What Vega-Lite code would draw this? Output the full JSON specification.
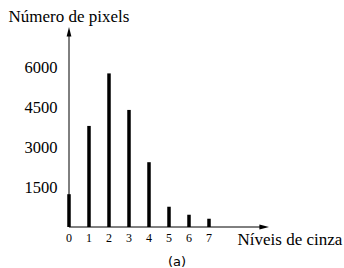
{
  "$schema": "https://vega.github.io/schema/vega-lite/v6.json",
  "width": 200,
  "height": 200,
  "autosize": "none",
  "padding": {"left": 69, "top": 27, "right": 75, "bottom": 41},
  "background": "white",
  "title": {"text": "(a)", "orient": "bottom", "anchor": "middle", "dx": 8, "offset": 9, "font": "DejaVu Sans", "fontSize": 13, "fontWeight": "normal", "color": "black"},
  "config": {"view": {"stroke": null}, "axis": {"labelOverlap": false, "domain": false, "ticks": false, "grid": false}},
  "datasets": {
    "hist": [
      {"nivel": 0, "pixels": 1230},
      {"nivel": 1, "pixels": 3790},
      {"nivel": 2, "pixels": 5760},
      {"nivel": 3, "pixels": 4390},
      {"nivel": 4, "pixels": 2430},
      {"nivel": 5, "pixels": 760},
      {"nivel": 6, "pixels": 460},
      {"nivel": 7, "pixels": 310}
    ]
  },
  "layer": [
    {
      "data": {"name": "hist"},
      "mark": {"type": "bar", "width": 3.5, "color": "black"},
      "encoding": {
        "x": {"field": "nivel", "type": "quantitative", "scale": {"domain": [0, 10], "nice": false, "zero": false, "padding": 0},
          "axis": {"labels": false, "title": "Níveis de cinza", "titleAngle": 0, "titleX": 168, "titleY": 12, "titleAlign": "left", "titleBaseline": "middle",
            "titleFont": "Liberation Serif", "titleFontSize": 17, "titleFontWeight": "normal", "titleColor": "black"}},
        "y": {"field": "pixels", "type": "quantitative", "scale": {"domain": [0, 7500], "nice": false, "padding": 0},
          "axis": {"values": [1500, 3000, 4500, 6000], "format": "d",
            "labelFont": "Liberation Serif", "labelFontSize": 16.5, "labelColor": "black", "labelPadding": 12,
            "title": "Número de pixels", "titleAngle": 0, "titleX": -61, "titleY": -11, "titleAlign": "left", "titleBaseline": "middle",
            "titleFont": "Liberation Serif", "titleFontSize": 17, "titleFontWeight": "normal", "titleColor": "black"}}
      }
    },
    {
      "data": {"name": "hist"},
      "mark": {"type": "text", "font": "Liberation Serif", "fontSize": 12, "color": "black", "baseline": "middle", "align": "center", "dy": 10.5},
      "encoding": {
        "x": {"field": "nivel", "type": "quantitative"},
        "y": {"datum": 0, "type": "quantitative"},
        "text": {"field": "nivel", "type": "quantitative"}
      }
    },
    {
      "data": {"values": [{}]},
      "mark": {"type": "rule", "color": "black", "strokeWidth": 1},
      "encoding": {"x": {"datum": 0, "type": "quantitative"}, "x2": {"datum": 9.6}, "y": {"datum": 0, "type": "quantitative"}}
    },
    {
      "data": {"values": [{}]},
      "mark": {"type": "rule", "color": "black", "strokeWidth": 1},
      "encoding": {"x": {"datum": 0, "type": "quantitative"}, "y": {"datum": 0, "type": "quantitative"}, "y2": {"datum": 7200}}
    },
    {
      "data": {"values": [{}]},
      "mark": {"type": "point", "filled": true, "color": "black", "opacity": 1, "size": 64, "shape": "M0,0L-0.6,2.4L0.6,2.4Z"},
      "encoding": {"x": {"datum": 0, "type": "quantitative"}, "y": {"datum": 7500, "type": "quantitative"}}
    },
    {
      "data": {"values": [{}]},
      "mark": {"type": "point", "filled": true, "color": "black", "opacity": 1, "size": 64, "shape": "M0,0L-2.4,-0.6L-2.4,0.6Z"},
      "encoding": {"x": {"datum": 10, "type": "quantitative"}, "y": {"datum": 0, "type": "quantitative"}}
    }
  ]
}
